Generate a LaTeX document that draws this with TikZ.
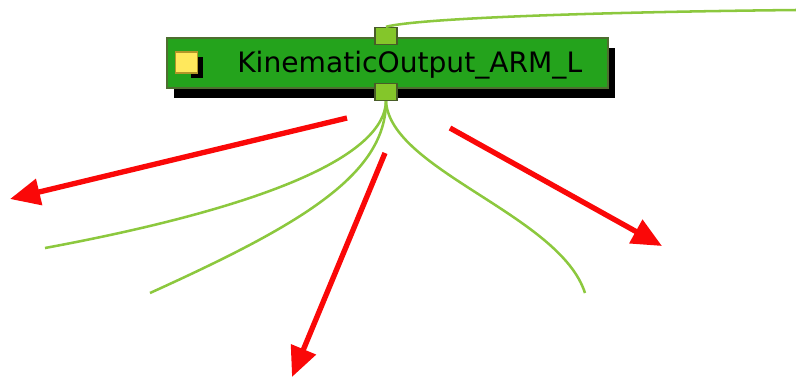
\documentclass[tikz,border=0pt]{standalone}
\usepackage{fontspec}
\setmainfont{DejaVu Sans}
\usetikzlibrary{arrows.meta}
\definecolor{nodeg}{RGB}{36,163,28}
\definecolor{nodeedge}{RGB}{78,110,48}
\definecolor{portg}{RGB}{132,198,42}
\definecolor{portedge}{RGB}{72,92,40}
\definecolor{wireg}{RGB}{140,200,62}
\definecolor{iconyel}{RGB}{255,232,92}
\definecolor{iconedge}{RGB}{178,150,40}
\definecolor{hintred}{RGB}{250,8,8}

\begin{document}
\begin{tikzpicture}[x=0.025cm, y=-0.025cm,
  kinbox/.style={draw=nodeedge, fill=nodeg, line width=1.5pt, minimum width=11.025cm, minimum height=1.25cm, inner sep=0pt},
  portbox/.style={draw=portedge, fill=portg, line width=0.9pt, minimum width=0.55cm, minimum height=0.43cm, inner sep=0pt},
  iconbox/.style={draw=iconedge, fill=iconyel, line width=1pt, minimum width=0.56cm, minimum height=0.52cm, inner sep=0pt},
  wire/.style={wireg, line width=1.8pt},
  hint/.style={hintred, line width=3.8pt, -{Triangle[length=0.75cm, width=0.65cm]}}]
% geometry: pixel grid of the screenshot, 796 x 378, y grows downwards
\useasboundingbox (0,0) rectangle (796,378);

% ---- node with drop shadow ----
\fill[black] (174,48) rectangle (615,98);
\node[kinbox] (kin) at (387.5,63) {};
\fill[black] (191,57) rectangle (203,78);
\node[iconbox] (kinicon) at (186.5,62.5) {};
\node[anchor=west, font=\fontsize{20}{24}\selectfont, inner sep=0pt] (kinlabel) at (237,65) {KinematicOutput\_ARM\_L};

% ---- ports ----
\node[portbox] (inport) at (386,36) {};
\node[portbox] (outport) at (386,92) {};

% ---- wires ----
\coordinate (upend) at (796,10);
\coordinate (leftend) at (45,248);
\coordinate (midend) at (150,293);
\coordinate (rightend) at (585,293);
\draw[wire] (inport.north) .. controls (420,18) and (600,12) .. (upend);
\draw[wire] (outport.south) .. controls (384,160) and (250,210) .. (leftend);
\draw[wire] (outport.south) .. controls (386,175) and (300,225) .. (midend);
\draw[wire] (outport.south) .. controls (390,170) and (560,215) .. (rightend);

% ---- red hint arrows ----
\coordinate (a1s) at (347,118); \coordinate (a1e) at (10,199);
\coordinate (a2s) at (385,153); \coordinate (a2e) at (292,377);
\coordinate (a3s) at (450,128); \coordinate (a3e) at (662,246);
\foreach \s/\e in {a1s/a1e, a2s/a2e, a3s/a3e}{
  \draw[hint] (\s) -- (\e);
}
\end{tikzpicture}
\end{document}
